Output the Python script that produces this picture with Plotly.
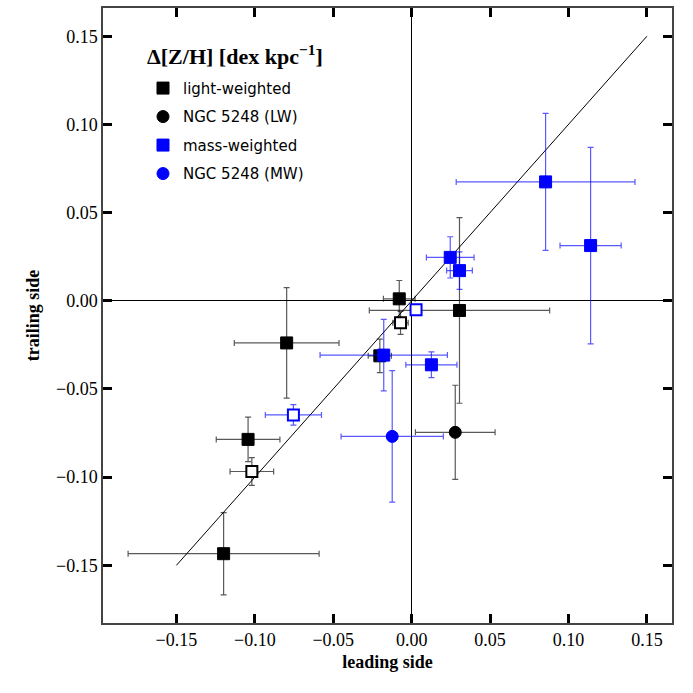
import plotly.graph_objects as go

# ---- data ----
# light-weighted (filled black squares)
lw_x = [-0.1199, -0.1043, -0.0797, -0.0079, 0.0305, -0.0203]
lw_y = [-0.1434, -0.0786, -0.0239, 0.0011, -0.0055, -0.0312]
lw_xerr = [0.0609, 0.0203, 0.0334, 0.0101, 0.0575, 0.0074]
lw_yerr = [0.0233, 0.0126, 0.0313, 0.0104, 0.0526, 0.0095]

# light-weighted, open squares
lwo_x = [-0.0071, -0.1019]
lwo_y = [-0.0125, -0.0968]
lwo_xerr = [0.0049, 0.0139]
lwo_yerr = [0.0065, 0.0079]

# NGC 5248 (LW)
ngc_lw_x = [0.0278]
ngc_lw_y = [-0.0746]
ngc_lw_xerr = [0.0254]
ngc_lw_yerr = [0.0267]

# mass-weighted (filled blue squares)
mw_x = [-0.0178, 0.0126, 0.0246, 0.0305, 0.0854, 0.1141]
mw_y = [-0.0308, -0.0363, 0.0246, 0.0171, 0.0674, 0.0313]
mw_xerr = [0.0406, 0.0163, 0.0152, 0.0082, 0.0570, 0.0195]
mw_yerr = [0.0203, 0.0073, 0.0117, 0.0106, 0.0388, 0.0557]

# mass-weighted, open squares
mwo_x = [0.0028, -0.0754]
mwo_y = [-0.0051, -0.0647]
mwo_xerr = [0.002, 0.0179]
mwo_yerr = [0.002, 0.0058]

# NGC 5248 (MW)
ngc_mw_x = [-0.0124]
ngc_mw_y = [-0.0769]
ngc_mw_xerr = [0.0326]
ngc_mw_yerr = [0.0373]

one_to_one = [-0.15, 0.15]
tick_vals = [-0.15, -0.10, -0.05, 0.00, 0.05, 0.10, 0.15]
tick_text = ["\u22120.15", "\u22120.10", "\u22120.05", "0.00", "0.05", "0.10", "0.15"]
legend_title = "<b>\u0394[Z/H] [dex kpc<sup>\u22121</sup>]</b>"

BLACK_ERR = "rgba(0,0,0,0.65)"
BLUE_ERR = "rgba(0,0,255,0.65)"
SERIF = "Liberation Serif"
SANS = "DejaVu Sans"


def errs(arr, color):
    return dict(type="data", array=arr, visible=True, color=color, thickness=1.2, width=3)


fig = go.Figure()

fig.add_trace(go.Scatter(x=one_to_one, y=one_to_one, mode="lines",
                         line=dict(color="black", width=1), showlegend=False,
                         hoverinfo="skip"))

fig.add_trace(go.Scatter(x=lwo_x, y=lwo_y, mode="markers", showlegend=False,
                         marker=dict(symbol="square", size=11, color="white",
                                     line=dict(color="black", width=2)),
                         error_x=errs(lwo_xerr, BLACK_ERR), error_y=errs(lwo_yerr, BLACK_ERR)))
fig.add_trace(go.Scatter(x=lw_x, y=lw_y, mode="markers", name="light-weighted",
                         legendgroup="a", legendrank=1,
                         marker=dict(symbol="square", size=12, color="black",
                                     line=dict(color="black", width=1)),
                         error_x=errs(lw_xerr, BLACK_ERR), error_y=errs(lw_yerr, BLACK_ERR)))
fig.add_trace(go.Scatter(x=ngc_lw_x, y=ngc_lw_y, mode="markers", name="NGC 5248 (LW)",
                         legendgroup="b", legendrank=2,
                         marker=dict(symbol="circle", size=12, color="black",
                                     line=dict(color="black", width=1)),
                         error_x=errs(ngc_lw_xerr, BLACK_ERR), error_y=errs(ngc_lw_yerr, BLACK_ERR)))
fig.add_trace(go.Scatter(x=mwo_x, y=mwo_y, mode="markers", showlegend=False,
                         marker=dict(symbol="square", size=11, color="white",
                                     line=dict(color="blue", width=2)),
                         error_x=errs(mwo_xerr, BLUE_ERR), error_y=errs(mwo_yerr, BLUE_ERR)))
fig.add_trace(go.Scatter(x=mw_x, y=mw_y, mode="markers", name="mass-weighted",
                         legendgroup="c", legendrank=3,
                         marker=dict(symbol="square", size=12, color="blue",
                                     line=dict(color="blue", width=1)),
                         error_x=errs(mw_xerr, BLUE_ERR), error_y=errs(mw_yerr, BLUE_ERR)))
fig.add_trace(go.Scatter(x=ngc_mw_x, y=ngc_mw_y, mode="markers", name="NGC 5248 (MW)",
                         legendgroup="d", legendrank=4,
                         marker=dict(symbol="circle", size=12, color="blue",
                                     line=dict(color="blue", width=1)),
                         error_x=errs(ngc_mw_xerr, BLUE_ERR), error_y=errs(ngc_mw_yerr, BLUE_ERR)))

axis_common = dict(
    showgrid=False, zeroline=True, zerolinecolor="black", zerolinewidth=1,
    showline=True, linecolor="#444", linewidth=1.5, mirror="allticks",
    ticks="inside", ticklen=9, tickwidth=2.5, tickcolor="black",
    tickvals=tick_vals, ticktext=tick_text,
    tickfont=dict(family=SERIF, size=18, color="black"),
)

fig.update_layout(
    width=693, height=693,
    margin=dict(l=103, r=21, t=6, b=70),
    paper_bgcolor="white", plot_bgcolor="white",
    xaxis=dict(range=[-0.1968, 0.166],
               title=dict(text="<b>leading side</b>", font=dict(family=SERIF, size=18, color="black"),
                          standoff=6),
               **axis_common),
    yaxis=dict(range=[-0.1827, 0.166],
               title=dict(text="<b>trailing side</b>", font=dict(family=SERIF, size=18, color="black"),
                          standoff=12),
               **axis_common),
    legend=dict(
        x=0.0703, y=0.8962, xanchor="left", yanchor="top",
        bgcolor="rgba(0,0,0,0)", borderwidth=0,
        font=dict(family=SANS, size=15, color="black"),
        tracegroupgap=6,
    ),
    showlegend=True,
    annotations=[dict(text=legend_title, xref="paper", yref="paper",
                      x=0.0738, y=0.9235, xanchor="left", yanchor="middle",
                      showarrow=False, font=dict(family=SERIF, size=22, color="black"))],
)

fig.write_html("out.html", config={"displayModeBar": False})

# remove the browser's default page margin so the figure sits at (0, 0)
with open("out.html", "r", encoding="utf-8") as f:
    html = f.read()
html = html.replace("<head>", "<head><style>html,body{margin:0;padding:0;overflow:hidden;}</style>", 1)
with open("out.html", "w", encoding="utf-8") as f:
    f.write(html)
